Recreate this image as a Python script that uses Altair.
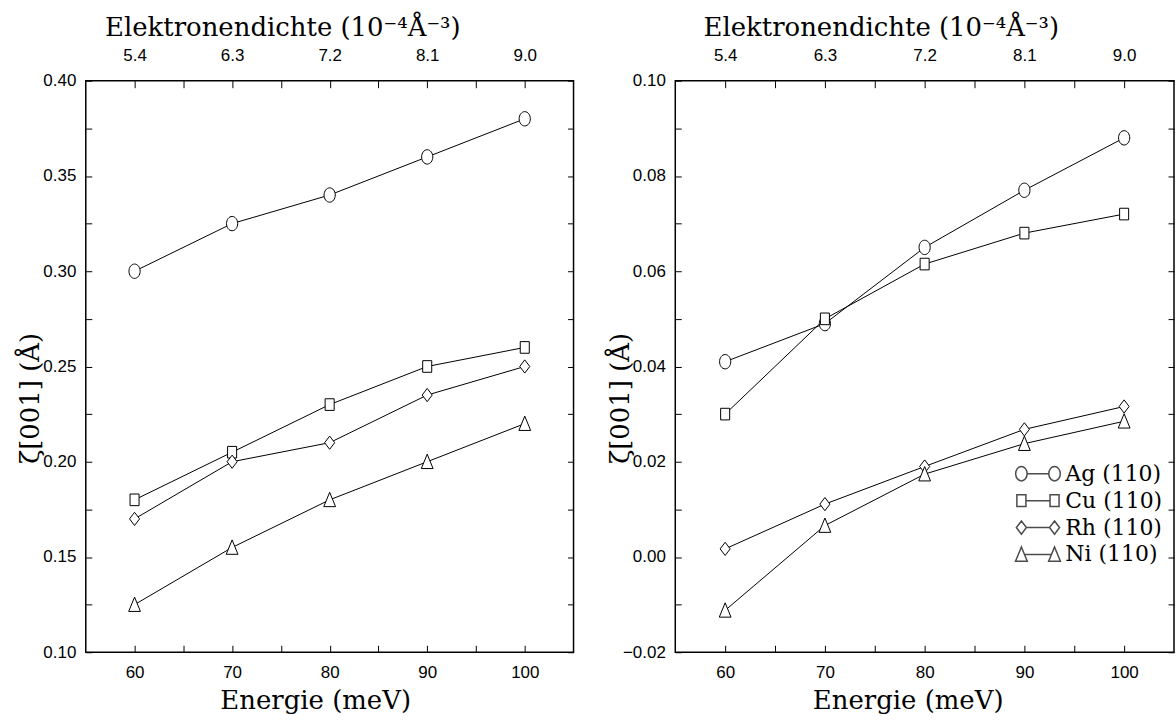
import altair as alt
import pandas as pd

# ---------------- data ----------------
ENERGIE = [60, 70, 80, 90, 100]
PROBEN = ["Ag (110)", "Cu (110)", "Rh (110)", "Ni (110)"]

LINKS_AG = [0.300, 0.325, 0.340, 0.360, 0.380]
LINKS_CU = [0.180, 0.205, 0.230, 0.250, 0.260]
LINKS_RH = [0.170, 0.200, 0.210, 0.235, 0.250]
LINKS_NI = [0.125, 0.155, 0.180, 0.200, 0.220]

RECHTS_AG = [0.041, 0.049, 0.065, 0.077, 0.088]
RECHTS_CU = [0.030, 0.050, 0.0615, 0.068, 0.072]
RECHTS_RH = [0.0017, 0.0111, 0.0190, 0.0268, 0.0316]
RECHTS_NI = [-0.0112, 0.0066, 0.0174, 0.0238, 0.0285]

X_TICKS = [60, 65, 70, 75, 80, 85, 90, 95, 100]
DICHTE_TICKS = [5.4, 5.85, 6.3, 6.75, 7.2, 7.65, 8.1, 8.55, 9.0]
LINKS_Y_TICKS = [0.10, 0.125, 0.15, 0.175, 0.20, 0.225, 0.25, 0.275, 0.30, 0.325, 0.35, 0.375, 0.40]
RECHTS_Y_TICKS = [-0.02, -0.01, 0.0, 0.01, 0.02, 0.03, 0.04, 0.05, 0.06, 0.07, 0.08, 0.09, 0.10]

# marker shapes (slightly taller than wide, as in the reference)
MARKER = [
    "M0.78,0 A0.78,1 0 1,1 -0.78,0 A0.78,1 0 1,1 0.78,0 Z",
    "M-0.63,-0.81 L0.63,-0.81 L0.63,0.81 L-0.63,0.81 Z",
    "M0,-0.92 L0.7,0 L0,0.92 L-0.7,0 Z",
    "M0,-1.05 L0.82,0.95 L-0.82,0.95 Z",
]
# legend symbols: marker - line - marker
LEGEND_SYM = [
    "M0.8,0 A0.8,1 0 1,1 -0.8,0 A0.8,1 0 1,1 0.8,0 Z M0.8,0 L3.82,0 M5.42,0 A0.8,1 0 1,1 3.82,0 A0.8,1 0 1,1 5.42,0 Z",
    "M-0.63,-0.81 L0.63,-0.81 L0.63,0.81 L-0.63,0.81 Z M0.63,0 L3.99,0 M3.99,-0.81 L5.25,-0.81 L5.25,0.81 L3.99,0.81 Z",
    "M0,-0.92 L0.7,0 L0,0.92 L-0.7,0 Z M0.7,0 L3.92,0 M4.62,-0.92 L5.32,0 L4.62,0.92 L3.92,0 Z",
    "M0,-1.05 L0.82,0.95 L-0.82,0.95 Z M0.43,0 L4.19,0 M4.62,-1.05 L5.44,0.95 L3.8,0.95 Z",
]

SERIF = "DejaVu Serif"
SANS = "Liberation Sans Narrow, Liberation Sans, Arial, sans-serif"


def frame(series):
    rows = []
    for probe, vals in zip(PROBEN, series):
        for e, v in zip(ENERGIE, vals):
            rows.append({"Probe": probe, "Energie": e, "zeta": v})
    return pd.DataFrame(rows)


def label_every(step, fmt):
    return (f"abs(datum.value/{step} - round(datum.value/{step})) < 0.001 ? "
            f"format(datum.value, '{fmt}') : ''")


def panel(df, y_domain, y_ticks, y_step, width, title_x_top, title_x_bottom, legend):
    x_scale = alt.Scale(domain=[55, 105], nice=False, zero=False)
    y_scale = alt.Scale(domain=y_domain, nice=False, zero=False)

    x_axis = alt.Axis(orient="bottom", values=X_TICKS, offset=-7, tickSize=7,
                      labelPadding=12, labelExpr=label_every(10, "d"),
                      labelFlush=False, labelOverlap=False,
                      title="Energie (meV)", titleX=title_x_bottom, titleY=55,
                      titleAlign="center", titleBaseline="middle")
    y_axis = alt.Axis(orient="left", values=y_ticks, offset=-6, tickSize=6,
                      labelPadding=10, labelExpr=label_every(y_step, ".2f"),
                      labelFlush=False, labelOverlap=False,
                      title="ζ[001] (Å)", titleX=-61, titleY=318,
                      titleAlign="center", titleBaseline="middle", titleAngle=270)

    base = alt.Chart(df).encode(
        x=alt.X("Energie:Q", scale=x_scale, axis=x_axis),
        y=alt.Y("zeta:Q", scale=y_scale, axis=y_axis),
    )
    line = base.mark_line(color="black", strokeWidth=1).encode(detail="Probe:N")
    points = base.mark_point(filled=True, fill="white", stroke="black",
                             strokeWidth=1, opacity=1, size=207).encode(
        shape=alt.Shape("Probe:N", scale=alt.Scale(domain=PROBEN, range=MARKER),
                        legend=None)
    )

    top_axis = alt.Axis(orient="top", values=DICHTE_TICKS, offset=-7, tickSize=7,
                        labelPadding=16, labelExpr=label_every(0.9, ".1f"),
                        labelFlush=False, labelOverlap=False,
                        title="Elektronendichte (10⁻⁴Å⁻³)", titleX=title_x_top,
                        titleY=-60, titleAlign="center", titleBaseline="middle")
    right_axis = alt.Axis(orient="right", values=y_ticks, offset=-6, tickSize=6,
                          labels=False, title=None)

    top_enc = dict(
        x=alt.X("Dichte:Q", scale=alt.Scale(domain=[4.95, 9.45], nice=False, zero=False),
                axis=top_axis),
        y=alt.Y("zeta:Q", scale=y_scale, axis=right_axis),
    )
    if legend:
        top_enc["shape"] = alt.Shape(
            "Probe:N", scale=alt.Scale(domain=PROBEN, range=LEGEND_SYM),
            legend=alt.Legend(orient="none", legendX=336, legendY=383, title=None,
                              symbolSize=207, labelFont=SERIF, labelFontSize=22,
                              labelColor="black", labelOffset=33, rowPadding=5,
                              padding=0),
        )
    # helper layer for the top (density) and right axes and the legend:
    # all its rows are filtered out, so it draws no marks itself
    top = (alt.Chart(df)
           .transform_calculate(Dichte="datum.Energie * 0.09")
           .transform_filter("datum.Energie < 0")
           .mark_point(filled=True, fill="white", stroke="black", strokeWidth=1)
           .encode(**top_enc))

    return (alt.layer(alt.layer(line, points), top)
            .resolve_scale(x="independent", y="independent", shape="independent")
            .properties(width=width, height=573))


left = panel(frame([LINKS_AG, LINKS_CU, LINKS_RH, LINKS_NI]), [0.10, 0.40],
             LINKS_Y_TICKS, 0.05, 489, 197, 230, legend=False)
right = panel(frame([RECHTS_AG, RECHTS_CU, RECHTS_RH, RECHTS_NI]), [-0.02, 0.10],
              RECHTS_Y_TICKS, 0.02, 500, 206, 233, legend=True)

chart = (alt.hconcat(left, right, spacing=102, bounds="flush")
         .properties(padding={"left": 17, "top": 13, "right": 0, "bottom": 0},
                     background="white")
         .configure_view(stroke="black", strokeWidth=1.5)
         .configure_axis(grid=False, domain=False, tickColor="black", tickWidth=1,
                         labelFont=SANS, labelFontSize=17, labelColor="black",
                         titleFont=SERIF, titleFontSize=26, titleFontWeight="normal",
                         titleColor="black"))

chart.save("out.html", embed_options={"renderer": "svg", "actions": False})
